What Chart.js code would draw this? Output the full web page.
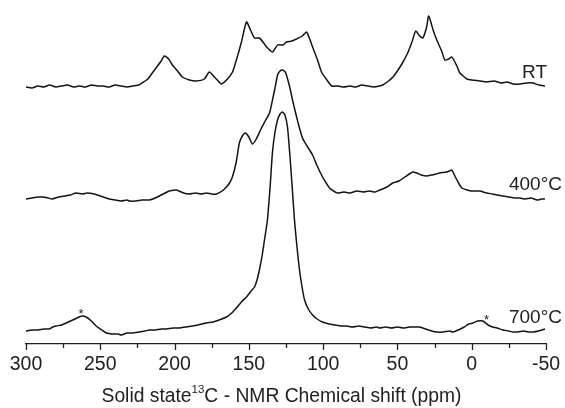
<!DOCTYPE html>
<html><head><meta charset="utf-8">
<script src="https://cdn.jsdelivr.net/npm/chart.js@4/dist/chart.umd.min.js"></script>
<style>html,body{margin:0;padding:0;background:#fff}#wrap{width:565px;height:408px;position:relative}</style>
</head><body><div id="wrap"><canvas id="c" width="565" height="408"></canvas></div>
<script>
// Chemical shift (ppm) and intensity (arbitrary, stacked with offsets) for each trace
const rtPpm = [300,296,292,288,284,280,276,272,268,264,260,256,252,248,244,240,236,232,228,224,221.8,218,215,212,209,206.9,204,201.5,198,194.8,190,185.4,180,176.6,173.2,170,168.5,164.4,161,158.4,155,151.6,148.9,146.2,142.9,140,138.1,134.1,130.7,127,124.7,121,117.9,114,111.2,109,107.1,104,101.1,97,94.3,90,86,82,78,74,70,66,62,59.9,56,53,50.5,47,43.1,40,37.7,35,32.9,30.5,28.9,26,23.5,20,18.1,15.5,13.4,10,8,5,3.3,0,-5.5,-10,-15,-20,-23.7,-28,-32.5,-37,-41.2,-45,-49.3];
const rtVal = [255,254,256,255,257,255,256,257,255,256,255,257,256,256,255,257,256,255,256,257,259,263,269,275,281,286,283,277,271,265,262,261,263,270,265,260,258,263,270,282,300,320,312,304,304,299,295,290,297,297,300,301,303,306,310,303,295,283,270,261,256,256,255,256,255,257,256,255,256,257,261,265,270,278,289,301,311,306,304,314,326,312,302,290,282,283,285,276,269,265,263,262,261,260,261,259,260,258,258,259,259,257,256];

const t400Ppm = [300,296,292,289,285,282.5,278,274,270,266.3,262,258.9,254,250,246,244,240,236,232,230.5,226,222,217,213,209,205,203.6,198.8,194,190.1,186,182,178.6,175,171.9,168,165.1,163,161.1,158.5,156.4,154,152.3,150,147.6,145,141.5,139,136.1,134.1,132,130.7,129,127.4,125.5,124.7,122.5,120.6,117,113.9,110,107.1,104,100.4,97.5,95.7,93,90.3,86,82,77.4,73,69,65,61.9,57,53.2,49,45,42,39.7,37,34,30.2,27,24,21.5,17,15,13.4,11,8.5,6.6,3,0,-5.5,-10,-14,-17,-21,-25,-29,-32.5,-36,-40,-44,-47,-49.3];
const t400Val = [143,144,145,145,144,143,145,146,147,149,148,149,148,146,144,143,142,141,142,141,141,142,142,144,147,150,151,152,149,148,149,148,149,148,148,151,155,159,165,180,199,207,209,205,198,203,214,221,229,242,257,267,271,272,270,267,255,242,220,204,194,187,176,165,158,154,151,149,150,149,151,150,151,150,152,155,159,161,165,168,170,169,167,166,167,168,169,170,171,172,165,158,154,152,151,151,149,148,147,146,145,144,144,143,144,142,143,143];

const t700Ppm = [300,296,292,288,284.5,282,279.8,276,273,270,267,264.3,262,259.5,256,252.8,249,246,242,238,235.9,232,228.5,224,220,217,213,209,205.6,201,197,192.1,188,184,178.6,174,170,165.1,161.5,158.4,155,151.6,149,146.2,144.5,142.9,141,139.5,137.5,135.7,134.1,132.4,130.7,129,127.4,125.7,124,122.3,120.6,119.3,117.6,115.9,114.2,112.5,110,107.1,104,100.4,96,92,88,84.2,80,76,72,68,64,61.9,58,54,50,46,42,38,35,31,27,23.5,19,15,12.7,9,5,2,-0.8,-4,-7.5,-11,-14,-17,-21,-25,-27.7,-31,-35,-38,-41.2,-45,-49.3];
const t700Val = [11,12,12,13,13,15,16,17,19,21,23,25,26,25,21,16,12,9,8,8,7,9,9,10,11,12,12,13,13,14,14,15,16,17,19,20,22,25,29,34,40,45,50,55,62,72,87,102,122,155,190,210,222,228,230,227,215,185,150,122,95,72,55,42,33,27,23,20,18,17,16,16,15,16,15,14,15,14,15,14,15,14,15,15,15,13,11,10,10,11,10,12,15,18,19,21,21,17,15,14,12,11,10,10,11,10,10,11,13];

const xTicks = [300,250,200,150,100,50,0,-50];
const traceLabels = ['RT','400°C','700°C'];
const labelPpm = [-50,-50,-50];
const labelVal = [269,157,24];
const starPpm = [263,-10];
const starVal = [31,25];

const toXY = (xs, ys) => xs.map((x,i)=>({x:x, y:ys[i]}));
const FONT = '"Liberation Sans", Arial, sans-serif';

const decor = {
  id:'decor',
  afterDraw(chart){
    const ctx = chart.ctx, xs = chart.scales.x, ys = chart.scales.y, ca = chart.chartArea;
    ctx.save();
    ctx.strokeStyle = '#222'; ctx.lineWidth = 1.3;
    for(let v=-50; v<=300; v+=25){
      const px = Math.round(xs.getPixelForValue(v))+0.5;
      const len = (v%50===0)?6:4;
      ctx.beginPath(); ctx.moveTo(px, ca.bottom); ctx.lineTo(px, ca.bottom+len); ctx.stroke();
    }
    ctx.fillStyle = '#222';
    ctx.font = '19px '+FONT; ctx.textAlign='right'; ctx.textBaseline='middle';
    const offs = [1,16,16];
    traceLabels.forEach((t,i)=>{
      ctx.fillText(t, xs.getPixelForValue(labelPpm[i])+offs[i], ys.getPixelForValue(labelVal[i]));
    });
    ctx.font = '13px '+FONT; ctx.textAlign='center';
    starPpm.forEach((p,i)=>{ ctx.fillText('*', xs.getPixelForValue(p), ys.getPixelForValue(starVal[i])+3); });
    const a = 'Solid state', sup = '13', b = 'C - NMR Chemical shift (ppm)';
    const mainF = '19.3px '+FONT, supF = '11.5px '+FONT;
    ctx.font = mainF; const wa = ctx.measureText(a).width, wb = ctx.measureText(b).width;
    ctx.font = supF; const ws = ctx.measureText(sup).width;
    let x0 = 281.5 - (wa+ws+wb)/2; const yT = 397;
    ctx.textAlign='left'; ctx.textBaseline='middle';
    ctx.font = mainF; ctx.fillText(a, x0, yT); x0 += wa;
    ctx.font = supF; ctx.fillText(sup, x0, yT-7); x0 += ws;
    ctx.font = mainF; ctx.fillText(b, x0, yT);
    ctx.restore();
  }
};

const ds = (d)=>({data:d, borderColor:'#141414', borderWidth:1.5, pointRadius:0, showLine:true, tension:0.2, fill:false});

new Chart(document.getElementById('c'), {
  type:'scatter',
  data:{datasets:[ds(toXY(rtPpm,rtVal)), ds(toXY(t400Ppm,t400Val)), ds(toXY(t700Ppm,t700Val))]},
  options:{
    responsive:false, animation:false,
    layout:{padding:{left:26,right:19,top:0,bottom:0}},
    plugins:{legend:{display:false}, tooltip:{enabled:false}},
    scales:{
      x:{type:'linear', reverse:true, min:-50, max:300,
         afterBuildTicks:(s)=>{ s.ticks = xTicks.map(v=>({value:v})); },
         afterFit:(s)=>{ s.height = 64; },
         grid:{display:false}, border:{display:true, color:'#222', width:1.3},
         ticks:{color:'#222', font:{size:19.5, family:FONT}, padding:1, maxRotation:0, autoSkip:false}},
      y:{display:false, min:-2, max:342}
    }
  },
  plugins:[decor]
});
</script></body></html>
